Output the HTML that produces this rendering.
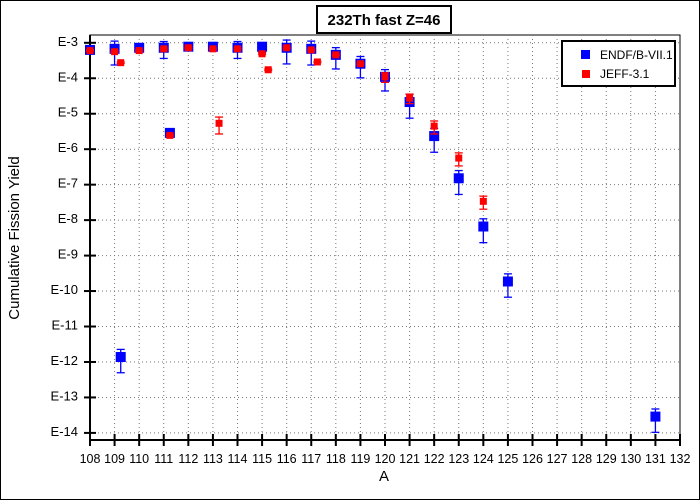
<!DOCTYPE html>
<html><head><meta charset="utf-8"><style>
body{margin:0;background:#fff}
svg{display:block;font-family:"Liberation Sans",Arial,sans-serif}
</style></head><body>
<svg id="chart" width="700" height="500" viewBox="0 0 700 500">
<rect x="0.5" y="0.5" width="699" height="499" fill="#fff" stroke="#000"/>
<rect x="90" y="35" width="590" height="405" fill="none" stroke="#000"/>
<g id="grid"></g>
<g id="axes"></g>
<g id="series"></g>
<rect x="317" y="6" width="134" height="27" fill="#fff" stroke="#000" stroke-width="2"/>
<text x="384" y="25" text-anchor="middle" font-size="15" font-weight="bold">232Th fast Z=46</text>
<text x="384" y="481" text-anchor="middle" font-size="15">A</text>
<text x="0" y="0" transform="translate(19,238) rotate(-90)" text-anchor="middle" font-size="15">Cumulative Fission Yield</text>
<g>
<rect x="562" y="41" width="113" height="45" fill="#fff" stroke="#000" stroke-width="2"/>
<rect x="581" y="50" width="9" height="9" fill="#0000ff"/>
<text x="600" y="59" font-size="12">ENDF/B-VII.1</text>
<rect x="582" y="70" width="8" height="8" fill="#ff0000"/>
<text x="600" y="78" font-size="12">JEFF-3.1</text>
</g>
</svg>
<script>
const xTicks=[108,109,110,111,112,113,114,115,116,117,118,119,120,121,122,123,124,125,126,127,128,129,130,131,132];
const yTickExps=[-3,-4,-5,-6,-7,-8,-9,-10,-11,-12,-13,-14];
const endfA=[108,109,110,111,112,113,114,115,116,117,118,119,120,121,122,123,124,125,131,109.25,111.25];
const endfLog=[-3.2,-3.17,-3.14,-3.14,-3.11,-3.11,-3.14,-3.11,-3.14,-3.17,-3.34,-3.59,-3.96,-4.67,-5.63,-6.82,-8.18,-9.73,-13.54,-11.86,-5.54];
const endfErr=[0.1,0.65,0.1,0.5,0.1,0.1,0.5,0.3,0.65,0.65,0.6,0.6,0.6,0.65,0.65,0.65,0.65,0.64,0.64,0.64,0.1];
const jeffA=[108,109,110,111,112,113,114,115,116,117,118,119,120,121,122,123,124,109.25,111.25,113.25,115.25,117.25];
const jeffLog=[-3.22,-3.25,-3.22,-3.17,-3.14,-3.17,-3.17,-3.31,-3.14,-3.2,-3.34,-3.59,-3.96,-4.56,-5.35,-6.25,-7.47,-3.56,-5.61,-5.27,-3.76,-3.54];
const jeffErr=[0.05,0.05,0.05,0.05,0.05,0.05,0.05,0.05,0.05,0.05,0.05,0.05,0.3,0.3,0.4,0.4,0.4,0.05,0.05,0.5,0.05,0.05];

const NS='http://www.w3.org/2000/svg';
const X0=90,X1=680,Y0=35,Y1=440,xMin=108,xMax=132,lMin=-14.2,lMax=-2.78;
const xs=a=>X0+(a-xMin)/(xMax-xMin)*(X1-X0);
const ys=l=>Y1-(l-lMin)/(lMax-lMin)*(Y1-Y0);
function mk(tag,attrs,parent){const e=document.createElementNS(NS,tag);for(const k in attrs)e.setAttribute(k,attrs[k]);parent.appendChild(e);return e;}
const grid=document.getElementById('grid'),axes=document.getElementById('axes'),ser=document.getElementById('series');
xTicks.forEach(t=>{
 const x=xs(t);
 if(t>xMin&&t<xMax){const g=mk('line',{x1:x,x2:x,y1:Y0,y2:Y1,stroke:'#777','stroke-dasharray':'1,3'},grid);
 
 }
 const tk=mk('line',{x1:x,x2:x,y1:Y1-6,y2:Y1+6,stroke:'#000','stroke-width':2},axes);
 
 
 const tx=mk('text',{x:x,y:Y1+23,'text-anchor':'middle','font-size':12.5},axes);
 tx.textContent=t;
 
 
});
yTickExps.forEach(e=>{
 const y=ys(e);
 const g=mk('line',{x1:X0,x2:X1,y1:y,y2:y,stroke:'#777','stroke-dasharray':'1,3'},grid);
 
 
 const tk=mk('line',{x1:X0-6,x2:X0+6,y1:y,y2:y,stroke:'#000','stroke-width':2},axes);
 
 
 const tx=mk('text',{x:X0-12,y:y+3,'text-anchor':'end','font-size':13},axes);
 tx.textContent='E'+e;
 
 
});
mk('line',{x1:X0,x2:X0,y1:Y0,y2:Y1,stroke:'#000','stroke-width':2},axes);
mk('line',{x1:X0,x2:X1,y1:Y1,y2:Y1,stroke:'#000','stroke-width':2},axes);
function drawSeries(A,L,E,color,size,name){
 A.forEach((a,i)=>{
  const x=xs(a),y=ys(L[i]);
  const up=ys(L[i]+Math.log10(1+E[i])),lo=ys(L[i]+Math.log10(Math.max(1-E[i],0.01)));
  const g=mk('g',{},ser);
  
  
  mk('line',{x1:x,x2:x,y1:up,y2:lo,stroke:color,'stroke-width':1.3},g);
  mk('line',{x1:x-4,x2:x+4,y1:up,y2:up,stroke:color,'stroke-width':1.3},g);
  mk('line',{x1:x-4,x2:x+4,y1:lo,y2:lo,stroke:color,'stroke-width':1.3},g);
  mk('rect',{x:x-size/2,y:y-size/2,width:size,height:size,fill:color},g);
 });
}
drawSeries(endfA,endfLog,endfErr,'#0000ff',10,'endf');
drawSeries(jeffA,jeffLog,jeffErr,'#ff0000',7,'jeff');
</script>
</body></html>
